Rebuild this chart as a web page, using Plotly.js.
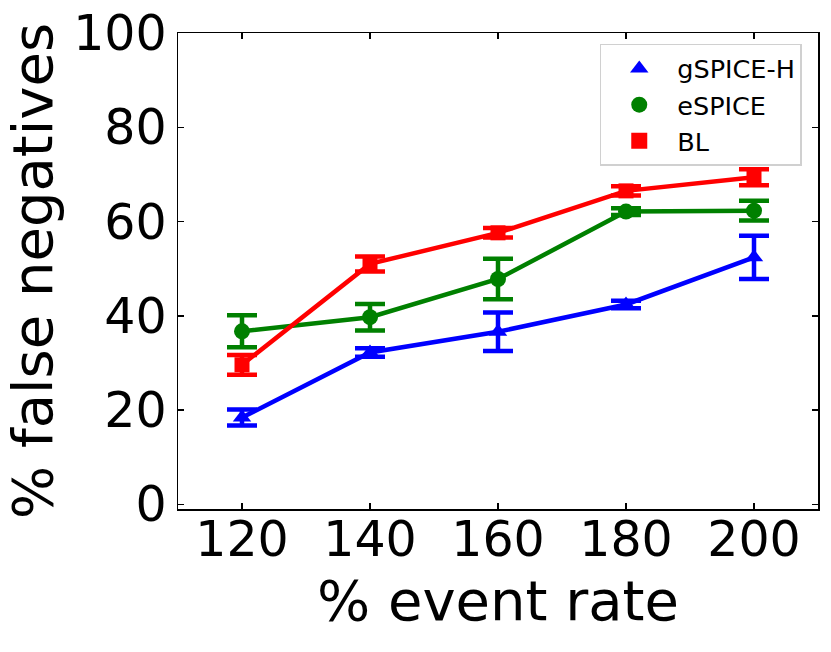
<!DOCTYPE html>
<html>
<head>
<meta charset="utf-8">
<script src="https://cdn.plot.ly/plotly-3.0.1.min.js"></script>
<style>html,body{margin:0;padding:0;background:#fff;}#chart{width:831px;height:652px;}</style>
</head>
<body>
<div id="chart"></div>
<script>
const eventRate = [120, 140, 160, 180, 200];
const gspiceH = [18.4, 32.2, 36.6, 42.4, 52.4];
const gspiceHErr = [1.7, 0.9, 4.1, 0.8, 4.6];
const espice = [36.7, 39.7, 47.8, 62.1, 62.3];
const espiceErr = [3.4, 2.8, 4.3, 0.7, 2.1];
const bl = [29.6, 51.0, 57.6, 66.5, 69.4];
const blErr = [2.1, 1.6, 1.0, 1.0, 1.7];
const seriesNames = ['gSPICE-H', 'eSPICE', 'BL'];
const seriesColors = ['#0000ff', '#008000', '#ff0000'];
const seriesSymbols = ['triangle-up', 'circle', 'square'];
const yTicks = [0, 20, 40, 60, 80, 100];

const font = 'DejaVu Sans, sans-serif';
const ys = [gspiceH, espice, bl];
const errs = [gspiceHErr, espiceErr, blErr];
const markerSizes = [16, 16, 15];

const traces = [];
for (let i = 0; i < 3; i++) {
  traces.push({
    x: eventRate, y: ys[i], type: 'scatter', mode: 'lines+markers',
    line: {color: seriesColors[i], width: 4.5},
    marker: {color: seriesColors[i], symbol: seriesSymbols[i], size: markerSizes[i]},
    error_y: {type: 'data', array: errs[i], visible: true, color: seriesColors[i], thickness: 4.5, width: 15},
    showlegend: false, hoverinfo: 'skip'
  });
}
for (let i = 0; i < 3; i++) {
  traces.push({
    x: [null], y: [null], type: 'scatter', mode: 'markers', name: seriesNames[i],
    legendgroup: 'g' + i,
    marker: {color: seriesColors[i], symbol: seriesSymbols[i], size: 16},
    showlegend: true
  });
}

const axisCommon = {
  showline: true, linecolor: '#000', linewidth: 1.5, mirror: 'ticks',
  ticks: 'inside', ticklen: 6, tickwidth: 1.5, tickcolor: '#000',
  showgrid: false, zeroline: false,
  tickfont: {family: font, size: 49, color: '#000'}
};

const layout = {
  width: 831, height: 652,
  margin: {l: 178, r: 13, t: 33, b: 143},
  paper_bgcolor: '#fff', plot_bgcolor: '#fff',
  xaxis: Object.assign({}, axisCommon, {
    range: [110, 210], tickvals: eventRate, ticktext: eventRate.map(String),
    ticklabelstandoff: -13,
    title: {text: '% event rate', font: {family: font, size: 56, color: '#000'}, standoff: 6}
  }),
  yaxis: Object.assign({}, axisCommon, {
    range: [-1, 100], tickvals: yTicks, ticktext: yTicks.map(String),
    title: {text: '% false negatives', font: {family: font, size: 56, color: '#000'}, standoff: 10}
  }),
  legend: {
    x: 0.659, y: 0.977, xanchor: 'left', yanchor: 'top',
    bgcolor: 'rgba(255,255,255,0.8)', bordercolor: '#d0d0d0', borderwidth: 1.5,
    font: {family: font, size: 25.5, color: '#000'},
    traceorder: 'grouped', tracegroupgap: 0, itemwidth: 66
  }
};

Plotly.newPlot('chart', traces, layout, {displayModeBar: false, staticPlot: true});
</script>
</body>
</html>
